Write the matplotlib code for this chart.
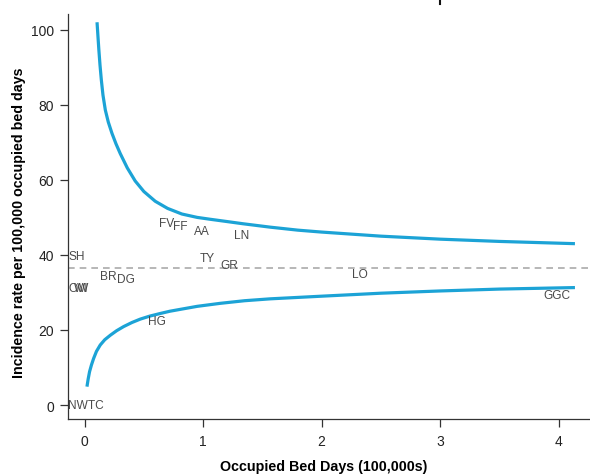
import numpy as np
import matplotlib
matplotlib.use("Agg")
import matplotlib.pyplot as plt
import matplotlib.transforms as mtransforms

# funnel limits
upper_x = [0.105, 0.112, 0.12, 0.13, 0.141, 0.155, 0.175, 0.2, 0.231, 0.265,
           0.301, 0.36, 0.427, 0.5, 0.596, 0.7, 0.821, 0.95, 1.06, 1.2,
           1.338, 1.566, 1.8, 1.996, 2.5, 3.0, 3.5, 4.137]
upper_y = [102.0, 98.6, 94.8, 90.6, 86.7, 82.6, 78.6, 75.4, 72.4, 69.6,
           67.0, 63.2, 59.7, 56.9, 54.3, 52.4, 50.9, 50.0, 49.5, 48.9,
           48.3, 47.4, 46.6, 46.1, 45.0, 44.2, 43.6, 43.0]

lower_x = [0.02, 0.03, 0.042, 0.058, 0.076, 0.1, 0.132, 0.17, 0.217, 0.27,
           0.329, 0.4, 0.47, 0.55, 0.639, 0.72, 0.808, 0.95, 1.144, 1.35,
           1.566, 1.996, 2.5, 3.0, 3.5, 4.137]
lower_y = [4.9, 6.9, 8.9, 10.7, 12.4, 14.3, 16.0, 17.4, 18.6, 19.8,
           20.9, 22.0, 22.9, 23.7, 24.4, 25.0, 25.5, 26.3, 27.1, 27.8,
           28.3, 29.0, 29.8, 30.4, 30.9, 31.3]

mean_rate = 36.5

# hospital labels
codes = ["SH", "OW", "WI", "NWTC", "BR", "DG", "FV", "FF", "AA", "LN",
         "TY", "GR", "HG", "LO", "GGC"]
bed_days = [-0.066, -0.05, -0.024, 0.014, 0.2, 0.347, 0.689, 0.803, 0.992, 1.321,
            1.035, 1.224, 0.613, 2.32, 3.986]
rates = [39.8, 31.3, 31.3, 0.0, 34.5, 33.7, 48.6, 47.8, 46.5, 45.4,
         39.3, 37.2, 22.3, 34.8, 29.4]

x_ticks = [0, 1, 2, 3, 4]
y_ticks = [0, 20, 40, 60, 80, 100]

plt.rcParams["font.family"] = ["Liberation Sans", "DejaVu Sans"]

fig = plt.figure(figsize=(5.9, 4.77), dpi=100)
ax = fig.add_axes([68 / 590, 57 / 477, 522 / 590, 405 / 477])

line_col = "#1ca3d6"
ax.plot(upper_x, upper_y, color=line_col, lw=2.3, solid_capstyle="butt")
ax.plot(lower_x, lower_y, color=line_col, lw=2.3, solid_capstyle="butt")
ax.axhline(mean_rate, color="#aaaaaa", lw=1.2, linestyle=(0, (4, 3)))

for c, x, y in zip(codes, bed_days, rates):
    ax.text(x, y, c, ha="center", va="center", fontsize=8.6, color="#4a4a4a")

ax.set_xlim(-0.14, 4.264)
ax.set_ylim(-3.72, 104.2)
ax.set_xticks(x_ticks)
ax.set_yticks(y_ticks)

for s in ["top", "right"]:
    ax.spines[s].set_visible(False)
for s in ["left", "bottom"]:
    ax.spines[s].set_color("#333333")
    ax.spines[s].set_linewidth(0.9)

ax.tick_params(axis="both", direction="out", length=6, width=0.9,
               color="#333333", labelsize=10, labelcolor="#222222", pad=4)
ax.tick_params(axis="x", pad=5)

ax.set_xlabel("Occupied Bed Days (100,000s)", fontsize=10.3, fontweight="bold")
ax.set_ylabel("Incidence rate per 100,000 occupied bed days", fontsize=10.3,
              fontweight="bold")
ax.xaxis.set_label_coords(0.489, -0.1)
ax.yaxis.set_label_coords(-0.08, 0.486)

# small mark cut off at the top edge
trans = mtransforms.blended_transform_factory(ax.transData, ax.transAxes)
ax.plot([3, 3], [1.025, 1.05], color="#111111", lw=1.5, transform=trans,
        clip_on=False)

fig.savefig("out.png", dpi=100)
